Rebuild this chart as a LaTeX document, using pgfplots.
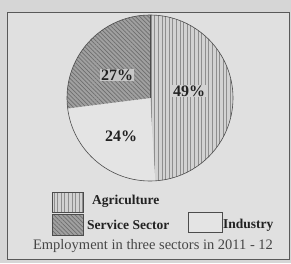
\documentclass[border=0pt]{standalone}
\usepackage{fontspec}
\setmainfont{Liberation Serif}
\usepackage{pgfplots}
\pgfplotsset{compat=1.18}
\usepackage{pgfplotstable}
\usetikzlibrary{patterns.meta}
\definecolor{paper}{HTML}{D6D6D6}
\definecolor{inner}{HTML}{E0E0E0}
\definecolor{agri}{HTML}{D2D2D2}
\definecolor{agriline}{HTML}{8E8E8E}
\definecolor{serv}{HTML}{A0A0A0}
\definecolor{servline}{HTML}{6E6E6E}
\definecolor{indu}{HTML}{E4E4E4}
\definecolor{ink}{HTML}{222222}
\pgfplotstableread{
sector value
Agriculture 49
Industry 24
Service 27
}\piedata
\begin{document}
\begin{tikzpicture}
\pgfplotstablegetelem{0}{value}\of\piedata \pgfmathsetmacro{\va}{\pgfplotsretval}
\pgfplotstablegetelem{1}{value}\of\piedata \pgfmathsetmacro{\vb}{\pgfplotsretval}
\pgfplotstablegetelem{2}{value}\of\piedata \pgfmathsetmacro{\vc}{\pgfplotsretval}
\pgfmathsetmacro{\aA}{90-3.6*\va}
\pgfmathsetmacro{\aB}{\aA-3.6*\vb}
\pgfmathsetmacro{\aC}{\aB-3.6*\vc}
\begin{axis}[scale only axis, width=291pt, height=263pt,
  xmin=0, xmax=291, ymin=0, ymax=263, hide axis, clip=false]
% paper
\fill[paper] (axis cs:0,0) rectangle (axis cs:291,263);
\fill[inner] (axis cs:7,4) rectangle (axis cs:289,251);
\draw[gray!70!black, line width=0.9pt] (axis cs:7,4) rectangle (axis cs:289,251);
% slices
\fill[agri] (axis cs:150,165) -- ++(90:83pt) arc[start angle=90, end angle=\aA, radius=83pt] -- cycle;
\fill[pattern={Lines[angle=90,distance=3.6pt,line width=0.7pt]}, pattern color=agriline]
  (axis cs:150,165) -- ++(90:83pt) arc[start angle=90, end angle=\aA, radius=83pt] -- cycle;
\fill[indu] (axis cs:150,165) -- ++(\aA:83pt) arc[start angle=\aA, end angle=\aB, radius=83pt] -- cycle;
\fill[serv] (axis cs:150,165) -- ++(\aB:83pt) arc[start angle=\aB, end angle=\aC, radius=83pt] -- cycle;
\fill[pattern={Lines[angle=-45,distance=3pt,line width=0.7pt]}, pattern color=servline]
  (axis cs:150,165) -- ++(\aB:83pt) arc[start angle=\aB, end angle=\aC, radius=83pt] -- cycle;
\draw[gray!60!black, line width=0.6pt] (axis cs:150,165) circle[radius=83pt];
\draw[gray!60!black, line width=0.6pt] (axis cs:150,165) -- ++(90:83pt);
% percentage labels
\node[font=\bfseries\fontsize{16}{16}\selectfont, text=ink, fill=agri, inner sep=1pt] at (axis cs:189,172) {49\%};
\node[font=\bfseries\fontsize{16}{16}\selectfont, text=ink, fill=serv!40!inner, inner sep=1pt] at (axis cs:117,188) {27\%};
\node[font=\bfseries\fontsize{16}{16}\selectfont, text=ink] at (axis cs:121,127) {24\%};
% legend
\fill[agri] (axis cs:52,51) rectangle (axis cs:83,71);
\fill[pattern={Lines[angle=90,distance=3.6pt,line width=0.7pt]}, pattern color=agriline] (axis cs:52,51) rectangle (axis cs:83,71);
\draw[gray!60!black] (axis cs:52,51) rectangle (axis cs:83,71);
\fill[serv] (axis cs:52,28) rectangle (axis cs:83,49);
\fill[pattern={Lines[angle=-45,distance=3pt,line width=0.7pt]}, pattern color=servline] (axis cs:52,28) rectangle (axis cs:83,49);
\draw[gray!60!black] (axis cs:52,28) rectangle (axis cs:83,49);
\fill[indu] (axis cs:188,31) rectangle (axis cs:222,51);
\draw[gray!60!black] (axis cs:188,31) rectangle (axis cs:222,51);
\node[font=\bfseries\fontsize{13.5}{14}\selectfont, text=ink, anchor=west, inner sep=0pt] at (axis cs:92,62) {Agriculture};
\node[font=\bfseries\fontsize{13.5}{14}\selectfont, text=ink, anchor=west, inner sep=0pt] at (axis cs:87,38) {Service Sector};
\node[font=\bfseries\fontsize{13.5}{14}\selectfont, text=ink, anchor=west, inner sep=0pt] at (axis cs:223,38) {Industry};
\node[font=\fontsize{14.5}{15}\selectfont, text=gray!55!black, inner sep=0pt] at (axis cs:153,17) {Employment in three sectors in 2011 - 12};
\end{axis}
\end{tikzpicture}
\end{document}
